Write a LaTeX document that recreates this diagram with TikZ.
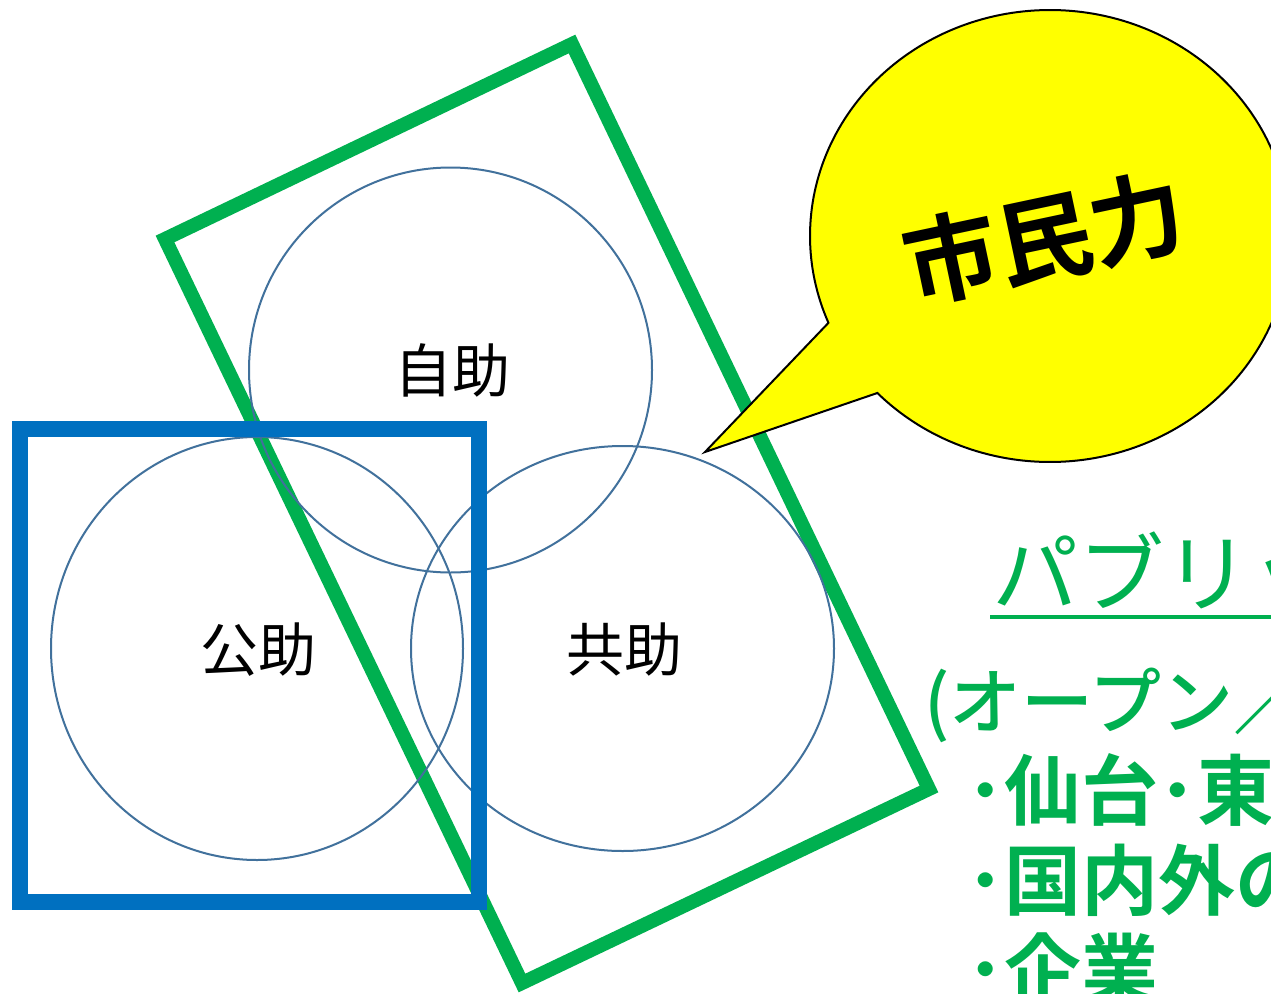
\documentclass[tikz,border=0pt]{standalone}
\usepackage{fontspec}
\newfontfamily\jp{Noto Sans CJK JP}
\newfontfamily\jpb{Noto Sans CJK JP Bold}
\newfontfamily\jpm{Noto Sans CJK JP Medium}
\definecolor{pgreen}{HTML}{00B050}
\definecolor{pblue}{HTML}{0070C0}
\definecolor{circblue}{HTML}{41719C}
\definecolor{pyellow}{HTML}{FFFF00}
\tikzset{
  greenbox/.style={draw=pgreen, line width=14pt, line join=miter},
  bluebox/.style={draw=pblue, line width=16pt, line join=miter},
  circ/.style={draw=circblue, line width=2pt},
  callout/.style={fill=pyellow, draw=black, line width=2pt, line join=miter},
  lbl/.style={font=\jp\fontsize{58}{64}\selectfont, text=black, inner sep=0pt},
  gtext/.style={text=pgreen, inner sep=0pt, anchor=base west},
}
\begin{document}
\begin{tikzpicture}[x=1pt,y=-1pt]
\clip (0,0) rectangle (1271,993);
\fill[white] (0,0) rectangle (1271,993);
% green rotated frame
\draw[greenbox] (165,239) -- (572,44) -- (929,789) -- (522,983) -- cycle;
% circles
\draw[circ] (450.5,370) ellipse [x radius=201.5pt, y radius=202.5pt];
\draw[circ] (257,648.5) ellipse [x radius=206pt, y radius=211.5pt];
\draw[circ] (622.5,648.5) ellipse [x radius=211.5pt, y radius=202.5pt];
% blue frame
\draw[bluebox] (20,428.5) rectangle (479,902);
% labels
\node[lbl] (jijo) at (452,370) {自助};
\node[lbl] (kojo) at (258,650) {公助};
\node[lbl] (kyojo) at (624,650) {共助};
% callout
\filldraw[callout] plot[domain=-202.6:136, samples=240, variable=\t] ({1050+240*cos(\t)},{236+226*sin(\t)}) -- (705,452) -- cycle;
\node[rotate=12, font=\jpb\fontsize{95}{100}\selectfont, inner sep=0pt] (shimin) at (1044,238) {市民力};
% right-hand text
\node[gtext, font=\jp\fontsize{86}{90}\selectfont] (pub) at (992,605) {パブリッ};
\draw[draw=pgreen, line width=4pt] (990,617) -- (1271,617);
\node[gtext, font=\jpm\fontsize{72}{80}\selectfont] (open) at (924,728) {(オープン／};
\node[gtext, font=\jpb\fontsize{77}{80}\selectfont] (l3) at (966,819) {･仙台･東};
\node[gtext, font=\jpb\fontsize{77}{80}\selectfont] (l4) at (966,909) {･国内外の};
\node[gtext, font=\jpb\fontsize{77}{80}\selectfont] (l5) at (966,998) {･企業};
\end{tikzpicture}
\end{document}
